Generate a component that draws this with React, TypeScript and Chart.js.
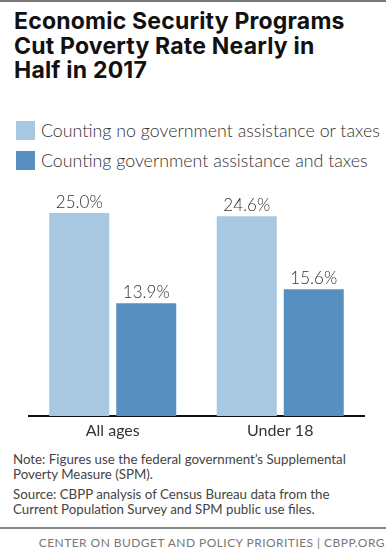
import React, { useEffect, useRef } from "react";
import { Chart, registerables } from "chart.js";

Chart.register(...registerables);

const title = ["Economic Security Programs", "Cut Poverty Rate Nearly in", "Half in 2017"];
const categories = ["All ages", "Under 18"];
const seriesNames = [
  "Counting no government assistance or taxes",
  "Counting government assistance and taxes",
];
const seriesNoAssistance = [25.0, 24.6];
const seriesWithAssistance = [13.9, 15.6];
const seriesColors = ["#a8c7e1", "#568fc0"];
const noteLines = [
  "Note: Figures use the federal government\u2019s Supplemental",
  "Poverty Measure (SPM).",
];
const sourceLines = [
  "Source: CBPP analysis of Census Bureau data from the",
  "Current Population Survey and SPM public use files.",
];
const footer = "CENTER ON BUDGET AND POLICY PRIORITIES | CBPP.ORG";

const FONT = "Lato, 'Open Sans', sans-serif";

const valueLabelPlugin = {
  id: "valueLabels",
  afterDatasetsDraw(chart: any) {
    const ctx = chart.ctx;
    ctx.save();
    ctx.font = `300 17px ${FONT}`;
    ctx.fillStyle = "#333";
    ctx.textAlign = "center";
    ctx.textBaseline = "alphabetic";
    chart.data.datasets.forEach((ds: any, i: number) => {
      const meta = chart.getDatasetMeta(i);
      meta.data.forEach((bar: any, j: number) => {
        ctx.fillText(ds.data[j].toFixed(1) + "%", bar.x, bar.y - 5);
      });
    });
    ctx.restore();
  },
};

export default function App() {
  const canvasRef = useRef<HTMLCanvasElement>(null);
  useEffect(() => {
    document.body.style.margin = "0";
    const chart = new Chart(canvasRef.current!, {
      type: "bar",
      data: {
        labels: categories,
        datasets: [
          {
            label: seriesNames[0],
            data: seriesNoAssistance,
            backgroundColor: seriesColors[0],
            categoryPercentage: 0.8,
            barPercentage: 0.8955,
          },
          {
            label: seriesNames[1],
            data: seriesWithAssistance,
            backgroundColor: seriesColors[1],
            categoryPercentage: 0.8,
            barPercentage: 0.8955,
          },
        ],
      },
      options: {
        animation: false,
        responsive: false,
        maintainAspectRatio: false,
        layout: { padding: { left: 29, right: 22, top: 28, bottom: 0 } },
        plugins: { legend: { display: false }, tooltip: { enabled: false } },
        scales: {
          y: { display: false, min: 0, max: 25 },
          x: {
            grid: { display: false, drawTicks: false },
            border: { display: true, color: "#111", width: 2 },
            ticks: { color: "#333", font: { family: FONT, size: 16, weight: "normal" }, padding: 5 },
            afterFit: (scale: any) => {
              scale.height = 34;
            },
          },
        },
      },
      plugins: [valueLabelPlugin],
    });
    return () => chart.destroy();
  }, []);

  return (
    <div style={{ position: "relative", width: 386, height: 556, background: "#fff", overflow: "hidden", fontFamily: FONT }}>
      <div style={{ position: "absolute", left: 0, top: 0, width: 386, height: 2, background: "#777" }} />
      <div style={{ position: "absolute", left: 14, top: 9, fontFamily: "Inter, sans-serif", fontWeight: 700, fontSize: 23, lineHeight: "24.5px", letterSpacing: 0.2, color: "#111", whiteSpace: "nowrap" }}>
        {title.map((t, i) => (
          <div key={i}>{t}</div>
        ))}
      </div>
      {seriesNames.map((n, i) => (
        <div key={i} style={{ position: "absolute", left: 16, top: 120 + i * 30, height: 20, display: "flex", alignItems: "center" }}>
          <div style={{ width: 19, height: 19, background: seriesColors[i], marginRight: 6 }} />
          <div style={{ fontSize: 17.8, fontWeight: 300, color: "#333", whiteSpace: "nowrap" }}>{n}</div>
        </div>
      ))}
      <canvas ref={canvasRef} width={386} height={265} style={{ position: "absolute", left: 0, top: 185, width: 386, height: 265 }} />
      <div style={{ position: "absolute", left: 13, top: 452, fontSize: 13.3, lineHeight: "15px", color: "#444", whiteSpace: "nowrap" }}>
        {noteLines.map((t, i) => (
          <div key={i}>{t}</div>
        ))}
        <div style={{ height: 5 }} />
        {sourceLines.map((t, i) => (
          <div key={i}>{t}</div>
        ))}
      </div>
      <div style={{ position: "absolute", left: 0, top: 527, width: 386, height: 2, background: "#888" }} />
      <div style={{ position: "absolute", right: 1, top: 535, fontSize: 12, letterSpacing: 0.45, color: "#777", whiteSpace: "nowrap" }}>
        {footer}
      </div>
    </div>
  );
}
